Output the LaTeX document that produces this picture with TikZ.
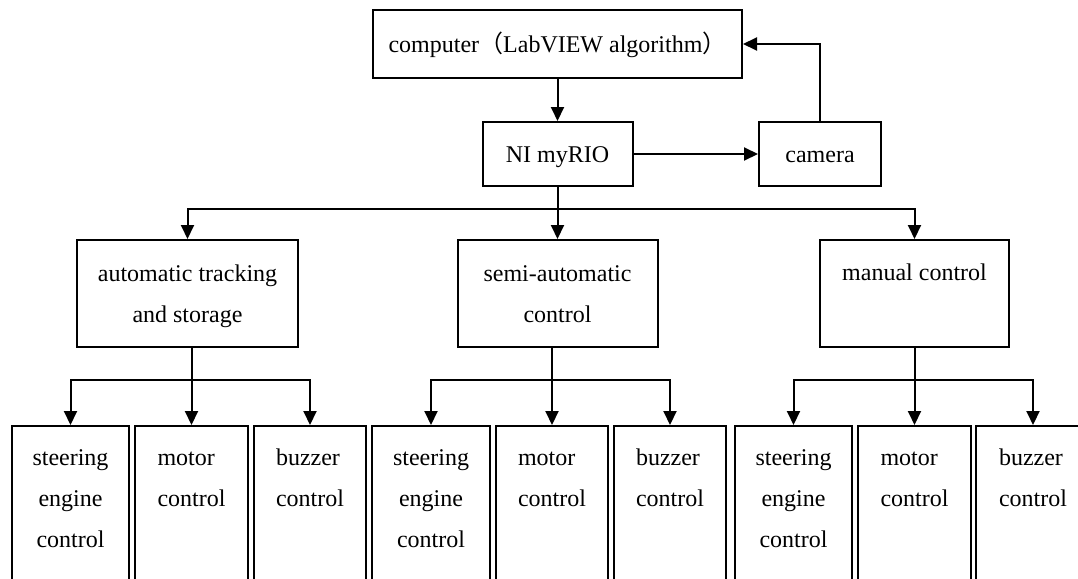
\documentclass[tikz,border=0pt]{standalone}
\usepackage{fontspec}
\setmainfont{Liberation Serif}
\newfontfamily\cjk{Noto Sans CJK SC}
\usetikzlibrary{arrows.meta}
\begin{document}
\begin{tikzpicture}[x=1pt,y=-1pt,
  every node/.style={font=\fontsize{24}{41}\selectfont},
  box/.style={draw, line width=2pt, inner sep=0pt, align=center},
  leaf/.style={draw, line width=2pt, inner sep=0pt, anchor=north, minimum height=220pt},
  lbl/.style={inner sep=0pt, anchor=north},
  arr/.style={line width=2pt, -{Triangle[length=14pt,width=13pt]}},
  ln/.style={line width=2pt}]
\useasboundingbox (0,0) rectangle (1078,578);
\clip (0,0) rectangle (1078,578);
% top
\node[box, minimum width=369pt, minimum height=68pt] (comp) at (557.5,44)
  {\strut computer{\cjk （}LabVIEW algorithm{\cjk ）}};
\node[box, minimum width=150pt, minimum height=64pt] (myrio) at (557.5,154) {\strut NI myRIO};
\node[box, minimum width=122pt, minimum height=64pt] (cam) at (820,154) {\strut camera};
\draw[arr] (comp.south) -- (myrio.north);
\draw[arr] (myrio.east) -- (cam.west);
\draw[arr] (cam.north) |- (comp.east);
% middle
\node[box, minimum width=221pt, minimum height=107pt] (auto) at (187.5,293.5)
  {\strut automatic tracking\\and storage\strut};
\node[box, minimum width=200pt, minimum height=107pt] (semi) at (557.5,293.5)
  {\strut semi-automatic\\control\strut};
\node[box, minimum width=189pt, minimum height=107pt] (man) at (914.5,293.5) {};
\node[lbl] (mant) at (914.5,252) {\strut manual control};
\coordinate (b0) at (557.5,209);
\draw[ln] (myrio.south) -- (b0);
\draw[arr] (b0) -| (auto.north);
\draw[arr] (b0) -- (semi.north);
\draw[arr] (b0) -| (man.north);
% bottom leaves
\foreach \g/\pn/\sx/\sw/\mx/\mw/\zx/\zw in {
  a/auto/70.5/117/191.5/113/310/112,
  s/semi/431/118/552/112/670/112,
  m/man/793.5/117/914.5/113/1033/114}{
  \node[leaf, minimum width=\sw pt] (\g s) at (\sx,425) {};
  \node[leaf, minimum width=\mw pt] (\g m) at (\mx,425) {};
  \node[leaf, minimum width=\zw pt] (\g z) at (\zx,425) {};
  \node[lbl, align=center] (\g st) at (\sx,436.3) {\strut steering\\engine\\control};
  \node[lbl, align=left] (\g mt) at (\mx,436.3) {\strut motor\\control};
  \node[lbl, align=left] (\g zt) at (\zx,436.3) {\strut buzzer\\control};
  \coordinate (\g b) at (\mx,380);
  \draw[ln] (\pn.south -| \g m.north) -- (\g b);
  \draw[arr] (\g b) -- (\g m.north);
  \draw[arr] (\g b) -| (\g s.north);
  \draw[arr] (\g b) -| (\g z.north);
}
\end{tikzpicture}
\end{document}
